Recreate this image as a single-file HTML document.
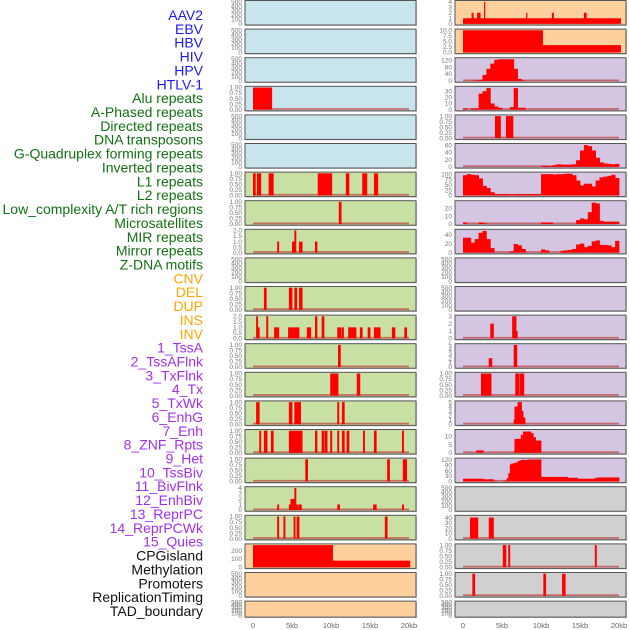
<!DOCTYPE html>
<html><head><meta charset="utf-8"><style>
html,body{margin:0;padding:0;background:#fff}
svg{display:block}
</style></head><body>
<svg id="chart" width="630" height="630" xmlns="http://www.w3.org/2000/svg"></svg>
<script>
const trackLabels = ["AAV2","EBV","HBV","HIV","HPV","HTLV-1","Alu repeats","A-Phased repeats","Directed repeats","DNA transposons","G-Quadruplex forming repeats","Inverted repeats","L1 repeats","L2 repeats","Low_complexity A/T rich regions","Microsatellites","MIR repeats","Mirror repeats","Z-DNA motifs","CNV","DEL","DUP","INS","INV","1_TssA","2_TssAFlnk","3_TxFlnk","4_Tx","5_TxWk","6_EnhG","7_Enh","8_ZNF_Rpts","9_Het","10_TssBiv","11_BivFlnk","12_EnhBiv","13_ReprPC","14_ReprPCWk","15_Quies","CPGisland","Methylation","Promoters","ReplicationTiming","TAD_boundary"];
const labelGroups = [6,13,5,15,5];
const groupColors = ["#1a1aee","#137013","#ffa500","#a030ee","#111111"];
const xTickValues = [0,5,10,15,20];
const xTickLabels = ["0","5kb","10kb","15kb","20kb"];
const leftBg = ["b","b","b","b","b","b","g","g","g","g","g","g","g","g","g","g","g","g","g","p","p","p"];
const rightBg = ["p","p","l","l","l","l","l","l","l","l","l","l","l","l","l","l","l","r","r","r","r","r"];
const T500=[0,100,200,300,400,500], T1=[0,0.25,0.5,0.75,1], T2=[0,0.5,1,1.5,2];
const leftBars = [
 [],[],[],
 [[0,2.4,1]],
 [],[],
 [[0,0.3,1],[0.5,1.0,1],[2.0,2.6,1],[8.3,10.1,1],[11.9,12.3,1],[14.0,14.6,1],[15.5,16.0,1]],
 [[11.0,11.3,1]],
 [[3.1,3.3,1],[5.0,5.3,1],[5.3,5.5,2],[5.9,6.3,1],[7.95,8.2,1]],
 [],
 [[1.4,1.7,1],[4.6,5.0,1],[5.3,5.6,1],[5.9,6.3,1]],
 [[0.4,0.6,2],[0.6,0.8,1],[1.7,1.9,2],[2.7,3.3,1],[4.5,5.9,1],[6.9,7.4,1],[7.95,8.2,2],[8.8,9.1,2],[10.8,11.3,1],[11.4,11.6,1],[12.2,13.2,1],[13.7,14.0,1],[14.7,15.0,1],[15.5,16.3,1],[17.8,18.2,1],[19.4,19.7,1]],
 [[10.9,11.2,1]],
 [[9.9,10.9,1],[13.3,13.7,1]],
 [[0.4,0.8,1],[4.6,5.0,1],[5.3,6.1,1],[10.8,11.0,1],[11.4,11.7,1]],
 [[0.8,1.0,1],[1.4,1.8,1],[2.3,2.6,1],[4.6,6.3,1],[7.95,8.2,1],[8.8,9.1,1],[9.2,9.5,1],[9.9,10.1,1],[10.8,11.0,1],[11.4,11.7,1],[12.0,12.3,1],[14.1,14.3,1],[15.5,15.8,1],[19.1,19.3,1]],
 [[6.7,7.0,1],[17.2,17.5,1],[19.2,19.7,1]],
 [[3.1,3.3,1],[4.6,4.8,1],[4.8,5.1,2],[5.1,5.3,2],[5.3,5.5,4],[5.5,5.7,1],[5.8,6.2,1],[10.8,11.1,1],[15.4,15.8,1],[19.1,19.3,1]],
 [[3.1,3.3,1],[3.9,4.1,1],[5.2,5.4,1],[5.6,5.9,1],[16.9,17.2,1]],
 [[0,10.2,270],[10.2,20.1,80]],
 [],[]
];
const leftTicks = [T500,T500,T500,T1,T500,T500,T1,T1,T2,T500,T1,T2,T1,T1,T1,T1,T1,[0,1,2,3,4],T1,[0,100,200],T500,T500];
const leftMax = [500,500,500,1,500,500,1,1,2,500,1,2,1,1,1,1,1,4,1,270,500,500];
const hivBins = [0,0,2,3,8,35,70,100,122,125,125,125,125,70,12,3,0,0,0,0,0,0,0,0,0,0,0,0,0,0,0,0,0,0,0,0,0,0,0,0];
const aluBins = [2,0,2,2,26,30,35,10,5,3,0,0,4,35,3,3,0,0,0,0,0,0,0,0,0,0,0,0,0,0,0,0,0,0,0,0,0,0,0,0];
const gquadBins = [0,0,0,0,0,0,0,0,0,0,0,0,0,0,0,0,0,0,0,0,3,3,2,5,7,6,6,6,7,18,45,60,57,45,25,12,9,8,7,8];
const l1Bins = [95,100,97,95,80,45,35,15,6,6,6,6,4,6,6,6,6,6,6,6,100,100,100,98,100,100,102,102,95,70,47,55,55,42,70,85,88,92,97,82];
const lowcBins = [2,0,0,0,2,1,0,0,0,0,0,0,0,0,0,0,0,0,0,0,2,2,2,0,0,0,0,0,0,5,7,6,15,27,26,4,3,3,3,3];
const mirBins = [33,33,22,30,44,48,30,10,0,0,0,0,3,19,16,8,0,0,0,0,7,5,0,0,0,4,5,6,8,18,20,12,15,25,27,17,17,16,12,26];
const rightBars = [
 [[0,20.2,1],[1.1,1.3,2],[1.8,2.2,2],[2.7,2.8,4],[8.1,8.2,2],[11.4,11.6,2],[15.5,15.8,2]],
 [[0,10.2,10],[10.2,20.2,3.3]],
 "hiv","alu",
 [[4.1,4.8,1],[5.5,6.4,1]],
 "gquad","l1","lowc","mir",
 [],[],
 [[3.5,3.9,2],[6.3,6.8,3],[6.8,6.95,1]],
 [[3.3,3.7,2],[6.5,6.9,5]],
 [[2.3,3.6,1],[6.7,7.2,1],[7.3,7.8,1]],
 [[6.5,6.6,1],[6.6,7.0,4],[7.0,7.5,5],[7.5,7.7,3],[7.7,7.95,1.5]],
 [[1.7,2.6,1.5],[6.5,6.6,1],[6.6,7.4,8.5],[7.4,7.7,11],[7.7,8.7,13],[8.7,9.0,12],[9.0,9.3,9.5],[9.3,10.0,7.5]],
 [[0,2.6,15],[2.6,3.9,12],[3.9,4.4,3],[5.2,5.6,4],[5.6,5.8,18],[5.8,6.0,45],[6.0,6.2,95],[6.2,6.6,100],[6.6,7.0,105],[7.0,7.4,115],[7.4,8.4,120],[8.4,10.0,122],[10.0,13.4,25],[13.4,14.7,20],[14.7,16.9,15],[16.9,17.3,20],[17.3,20.0,22]],
 [],
 [[0.9,1.9,40],[3.3,3.9,40]],
 [[5.1,5.5,1],[5.8,6.0,1],[16.9,17.1,1]],
 [[1.2,1.5,1],[10.3,10.6,1],[12.7,13.1,1]],
 []
];
const rightTicks = [[0,1,2,3,4],[0,2.5,5,7.5,10],[0,40,80,120],[0,10,20,30],T1,[0,20,40,60],[0,25,50,75,100],[0,10,20],[0,20,40],T500,T500,[0,1,2,3],[0,1,2,3,4,5],T1,[0,1,2,3,4,5],[0,5,10],[0,30,60,90,120],T500,[0,10,20,30,40],T1,T1,T500];
const rightMax = [4,10,127,36,1,61,104,28,49,500,500,3,5,1,5,13.5,123,500,42,1,1,500];

const svg = document.getElementById('chart');
const NS = "http://www.w3.org/2000/svg";
function mk(tag, attrs, parent){const e=document.createElementNS(NS,tag);for(const k in attrs)e.setAttribute(k,attrs[k]);(parent||svg).appendChild(e);return e;}
const bgColor = {b:"#c8e4ec",g:"#c8e0a4",p:"#fed09e",l:"#d4c6e2",r:"#d0d0d0"};
const binsMap = {hiv:hivBins,alu:aluBins,gquad:gquadBins,l1:l1Bins,lowc:lowcBins,mir:mirBins};
function rowTop(i){return 0.5+i*28.6;}
function rowH(i){return i===21?16:24.5;}
function xScale(col,kb){return (col===0?253:463)+kb*7.8;}
function fmtTick(v,ticks){const frac=ticks.some(t=>t%1!==0);if(!frac)return String(v);const two=ticks.some(t=>Math.round(t*100)%50!==0&&t%1!==0);return v.toFixed(two?2:1);}

let li=0;
labelGroups.forEach((n,g)=>{for(let k=0;k<n;k++){const y=15+li*13.86;
 const t=mk('text',{x:203,y:y+5,'text-anchor':'end','font-family':'Liberation Sans, sans-serif','font-size':'14',fill:groupColors[g]});
 t.textContent=trackLabels[li];
 
 
 li++;}});

function drawPanel(col,i,bg,bars,ticks,dmax){
 const x0=col===0?245:455, w=171, top=rowTop(i), h=rowH(i);
 const g=mk('g',{});
 
 
 mk('rect',{x:x0+1,y:top+1,width:w,height:h,fill:'#999',opacity:0.5},g);
 mk('rect',{x:x0,y:top,width:w,height:h,fill:bgColor[bg],stroke:'#555','stroke-width':1},g);
 const y0=top+h-1.2, ph=h-2.4;
 const yS=v=>y0-v/dmax*ph;
 ticks.forEach(t=>{const tt=mk('text',{x:x0-3,y:yS(t)+2.2,'text-anchor':'end','font-family':'Liberation Sans, sans-serif','font-size':'6.5',fill:'#777'},g);
  tt.textContent=fmtTick(t,ticks);
  
  });
 let list=bars;
 if(typeof bars==='string'){list=binsMap[bars].map((v,k)=>[k*0.5,k*0.5+0.5,v]);}
 if(list.length){
  const bl=mk('rect',{x:xScale(col,0),y:y0-1.5,width:xScale(col,20)-xScale(col,0),height:1.8,fill:'#c04040',opacity:0.7},g);
  
  
 }
 list.forEach(b=>{if(b[2]<=0)return;const xa=xScale(col,b[0]),xb=xScale(col,b[1]);
  const r=mk('rect',{x:xa,y:yS(b[2]),width:Math.max(1.2,xb-xa+0.4),height:y0-yS(b[2]),fill:'#ff0000'},g);
  
  });
}
for(let i=0;i<22;i++){
 drawPanel(0,i,leftBg[i],leftBars[i],leftTicks[i],leftMax[i]);
 drawPanel(1,i,rightBg[i],rightBars[i],rightTicks[i],rightMax[i]);
}
[0,1].forEach(col=>{xTickValues.forEach((v,k)=>{
 const t=mk('text',{x:xScale(col,v),y:628,'text-anchor':'middle','font-family':'Liberation Sans, sans-serif','font-size':'7.5',fill:'#666'});
 t.textContent=xTickLabels[k];
 
 });});
</script>
</body></html>
